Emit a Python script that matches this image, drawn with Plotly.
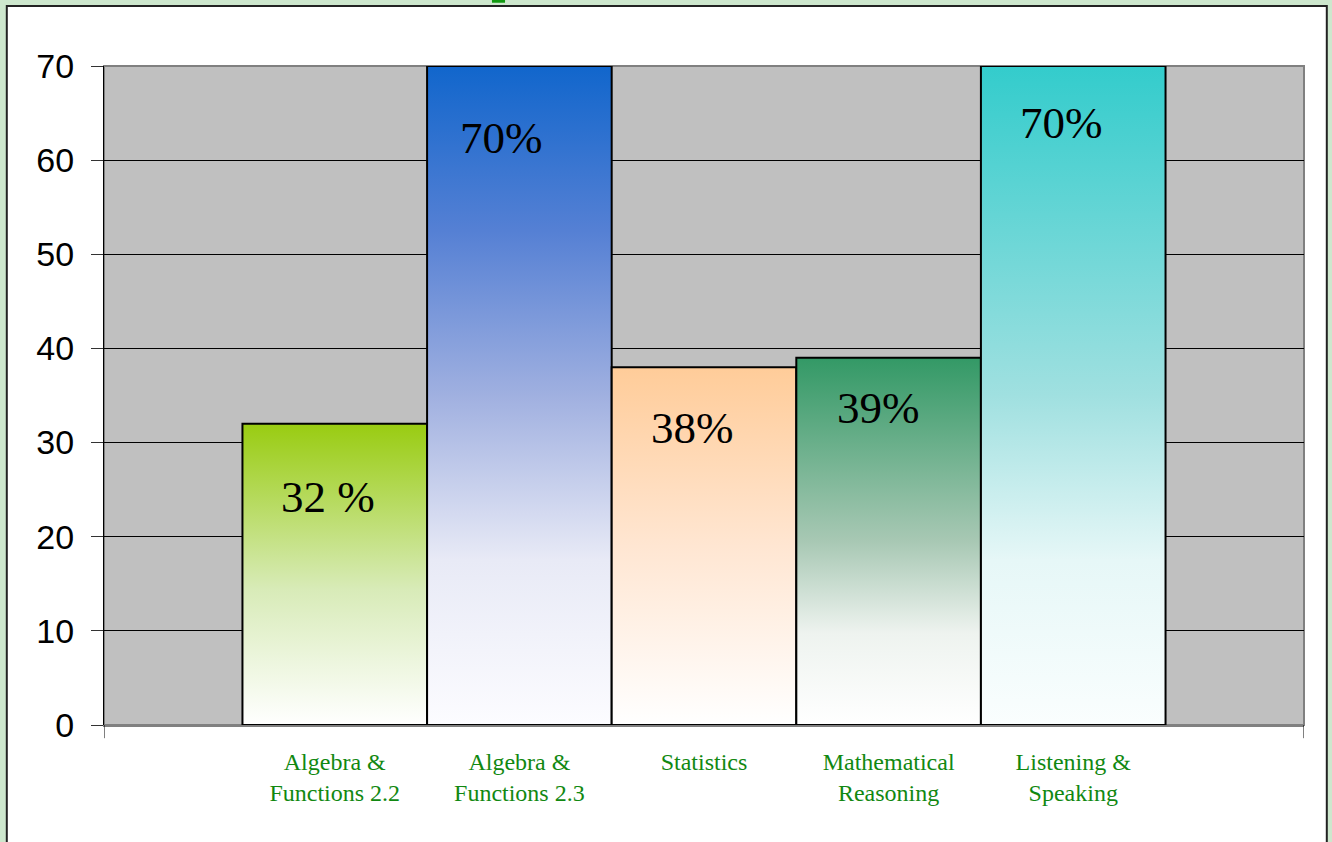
import plotly.graph_objects as go

categories = ["Algebra &<br>Functions 2.2", "Algebra &<br>Functions 2.3", "Statistics",
              "Mathematical<br>Reasoning", "Listening &<br>Speaking"]
values = [32, 70, 38, 39, 70]
value_labels = ["32 %", "70%", "38%", "39%", "70%"]
y_ticks = [0, 10, 20, 30, 40, 50, 60, 70]

# styles
colorscales = [
    [[0, "#FFFFFF"], [0.45, "#D8EBB8"], [1, "#99CC11"]],
    [[0, "#FCFCFF"], [0.25, "#E8EAF6"], [0.5, "#A0B0E0"], [0.75, "#5580D4"], [1, "#1166CC"]],
    [[0, "#FFFFFF"], [0.5, "#FFE6D2"], [1, "#FFCC99"]],
    [[0, "#FFFFFF"], [0.25, "#EEF3EF"], [0.5, "#A8C8B4"], [1, "#339966"]],
    [[0, "#FAFEFE"], [0.25, "#E6F7F7"], [0.5, "#A0E0E0"], [1, "#33CCCC"]],
]
label_xshift = [-7, -18, -12, -10, -12]
label_yshift = [-73, -72, -61, -50, -57]

fig = go.Figure()
for i, (v, cs) in enumerate(zip(values, colorscales)):
    fig.add_trace(go.Scatter(
        x=[i - 0.5, i - 0.5, i + 0.5, i + 0.5, i - 0.5],
        y=[0, v, v, 0, 0],
        mode="lines", fill="toself",
        fillgradient=dict(type="vertical", colorscale=cs),
        line=dict(color="black", width=2),
        hoverinfo="skip", showlegend=False,
    ))

for i, (v, t) in enumerate(zip(values, value_labels)):
    fig.add_annotation(x=i, y=v, text=t, showarrow=False, xanchor="center", yanchor="middle",
                       xshift=label_xshift[i], yshift=label_yshift[i],
                       font=dict(family="Liberation Serif", size=45, color="black"))

# page frame
fig.add_shape(type="rect", xref="paper", yref="paper", x0=-0.081, x1=1.019, y0=-0.25, y1=1.091,
              fillcolor="white", line=dict(color="#222222", width=2), layer="below")
fig.add_shape(type="rect", xref="paper", yref="paper", x0=0.3233, x1=0.3342, y0=1.096, y1=1.11,
              fillcolor="#119911", line=dict(width=0), layer="below")
fig.add_shape(type="rect", xref="paper", yref="paper", x0=0, x1=1, y0=0, y1=1,
              fillcolor="#C0C0C0", line=dict(color="#808080", width=2), layer="below")
# category axis edge tick marks
for xv in [-1.25, 5.25]:
    fig.add_shape(type="line", xref="x", yref="paper", x0=xv, x1=xv, y0=0, y1=-0.02,
                  line=dict(color="#000000", width=1))

fig.update_layout(
    width=1332, height=842,
    margin=dict(l=104, r=28, t=66, b=117),
    paper_bgcolor="#CDE7CD",
    plot_bgcolor="#C0C0C0",
    xaxis=dict(range=[-1.25, 5.25], tickvals=list(range(len(categories))), ticktext=categories,
               showgrid=False, zeroline=False, showline=True, linecolor="#808080", linewidth=2,
               ticks="", ticklen=0, ticklabelstandoff=14,
               tickfont=dict(family="Liberation Serif", size=24, color="#118811")),
    yaxis=dict(range=[0, 70], tickvals=y_ticks, showgrid=True, gridcolor="#000000", gridwidth=1,
               zeroline=False, showline=True, linecolor="#000000", linewidth=1,
               ticks="outside", ticklen=12, tickcolor="#333333", ticklabelstandoff=10,
               tickfont=dict(family="Liberation Sans", size=34, color="black")),
)

fig.write_html("out.html", config={"displayModeBar": False},
               post_script="document.body.style.margin='0';document.body.style.background='#CDE7CD';")
